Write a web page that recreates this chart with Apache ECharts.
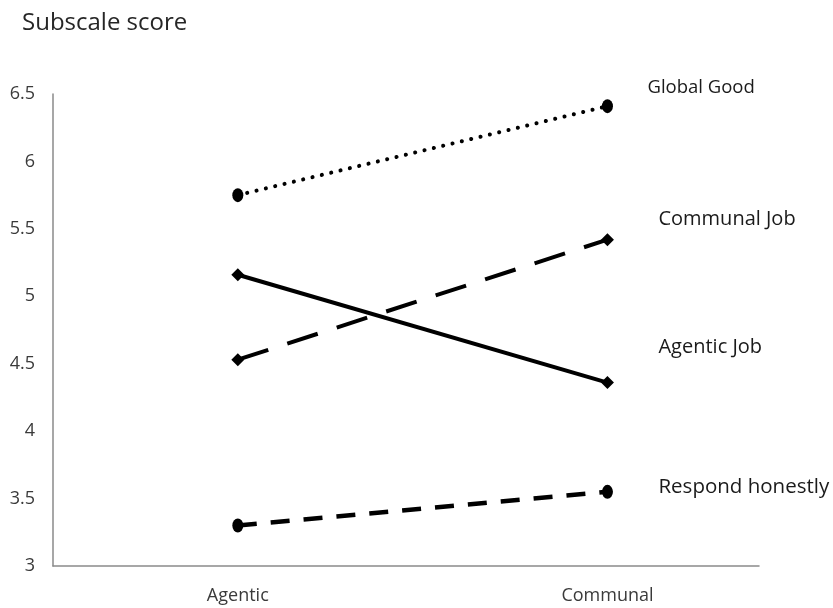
<!DOCTYPE html>
<html>
<head>
<meta charset="utf-8">
<script src="https://cdn.jsdelivr.net/npm/echarts@6/dist/echarts.min.js"></script>
<style>html,body{margin:0;padding:0;background:#fff}#c{width:833px;height:608px}</style>
</head>
<body>
<div id="c"></div>
<script>
var categories = ['Agentic', 'Communal'];
var seriesNames = ['Global Good', 'Communal Job', 'Agentic Job', 'Respond honestly'];
var globalGood = [5.75, 6.41];
var communalJob = [4.53, 5.42];
var agenticJob = [5.16, 4.36];
var respondHonestly = [3.30, 3.55];
var yTicks = [3, 3.5, 4, 4.5, 5, 5.5, 6, 6.5];

var values = [globalGood, communalJob, agenticJob, respondHonestly];
var styles = [
  {type: [0.1, 9.5], width: 4, cap: 'round', symbol: 'circle', size: [11, 14], labelOffset: [40, -18], fontSize: 18.5},
  {type: [32, 20], width: 4, cap: 'butt', symbol: 'diamond', size: [13, 13], labelOffset: [51, -20], fontSize: 20},
  {type: 'solid', width: 4, cap: 'butt', symbol: 'diamond', size: [13, 13], labelOffset: [51, -35], fontSize: 20},
  {type: [19, 14], width: 4.5, cap: 'butt', symbol: 'circle', size: [11, 14], labelOffset: [51, -5], fontSize: 20.5}
];
var font = '"Open Sans", "Liberation Sans", sans-serif';

var chart = echarts.init(document.getElementById('c'), null, {renderer: 'canvas'});
chart.setOption({
  backgroundColor: '#fff',
  animation: false,
  title: {
    text: 'Subscale score', left: 17, top: 6,
    textStyle: {fontFamily: font, fontSize: 24, fontWeight: 'normal', color: '#262626'}
  },
  grid: {left: 53, right: 74, top: 94, bottom: 42, containLabel: false},
  xAxis: {
    type: 'value', min: -0.5, max: 1.41,
    axisLine: {show: true, onZero: false, lineStyle: {color: '#8a8a8a', width: 1.5}},
    axisTick: {show: false},
    splitLine: {show: false},
    axisLabel: {
      customValues: [0, 1], margin: 21,
      formatter: function (v) { return categories[Math.round(v)] || ''; },
      fontFamily: font, fontSize: 18, color: '#3a3a3a'
    }
  },
  yAxis: {
    type: 'value', min: yTicks[0], max: yTicks[yTicks.length - 1], interval: 0.5,
    axisLine: {show: true, onZero: false, lineStyle: {color: '#8a8a8a', width: 1.5}},
    axisTick: {show: false},
    splitLine: {show: false},
    axisLabel: {margin: 18, fontFamily: font, fontSize: 18, color: '#3a3a3a'}
  },
  series: seriesNames.map(function (name, i) {
    var s = styles[i];
    return {
      name: name, type: 'line',
      data: values[i].map(function (v, j) { return [j, v]; }),
      symbol: s.symbol, symbolSize: s.size, showSymbol: true,
      itemStyle: {color: '#000'},
      lineStyle: {color: '#000', width: s.width, type: s.type, cap: s.cap},
      endLabel: {
        show: true, formatter: '{a}', distance: 0, offset: s.labelOffset,
        fontFamily: font, fontSize: s.fontSize, color: '#1a1a1a'
      },
      z: 2
    };
  })
});
</script>
</body>
</html>
